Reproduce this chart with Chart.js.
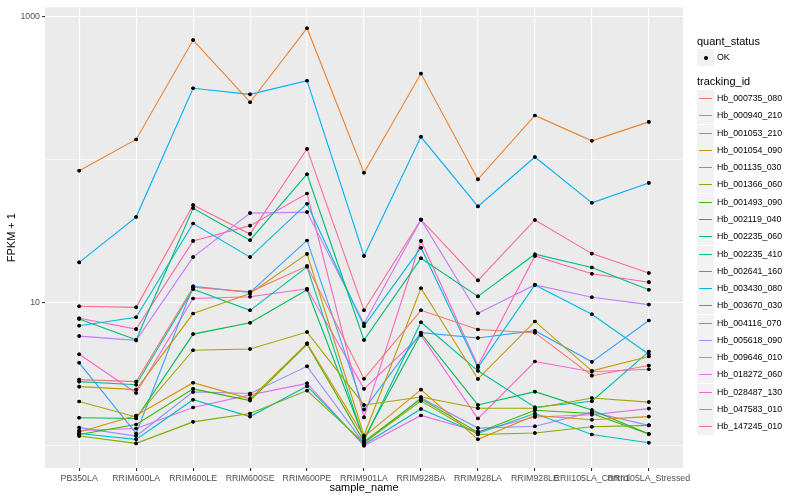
<!DOCTYPE html>
<html>
<head>
<meta charset="utf-8">
<script src="https://cdn.jsdelivr.net/npm/chart.js@4.4.0/dist/chart.umd.min.js"></script>
<style>
  body { margin: 0; background: #fff; font-family: "Liberation Sans", Arial, sans-serif; }
  #wrap { position: relative; width: 800px; height: 500px; }
  #legend { position: absolute; left: 0; top: 0; width: 800px; height: 500px; pointer-events: none; }
  .lg-title { position: absolute; left: 697px; font-size: 11px; color: #000; line-height: 14px; margin-top: -7px; white-space: nowrap; }
  .lg-row { position: absolute; left: 697px; height: 17px; margin-top: -8px; white-space: nowrap; }
  .lg-key { position: absolute; left: 0; top: 0; width: 17px; height: 17px; background: #f2f2f2; }
  .lg-line { position: absolute; left: 2px; top: 8px; width: 13px; height: 1px; }
  .lg-dot { position: absolute; left: 6.5px; top: 6.5px; width: 4px; height: 4px; border-radius: 50%; background: #000; }
  .lg-text { position: absolute; left: 20px; top: 0; line-height: 17px; font-size: 8.8px; color: #000; }
</style>
</head>
<body>
<div id="wrap">
  <canvas id="chart" width="800" height="500"></canvas>
  <div id="legend"></div>
</div>
<script>
const samples = ['PB350LA', 'RRIM600LA', 'RRIM600LE', 'RRIM600SE', 'RRIM600PE', 'RRIM901LA',
  'RRIM928BA', 'RRIM928LA', 'RRIM928LE', 'RRII105LA_Control', 'RRII105LA_Stressed'];

const trackingIds = ['Hb_000735_080', 'Hb_000940_210', 'Hb_001053_210', 'Hb_001054_090', 'Hb_001135_030',
  'Hb_001366_060', 'Hb_001493_090', 'Hb_002119_040', 'Hb_002235_060', 'Hb_002235_410',
  'Hb_002641_160', 'Hb_003430_080', 'Hb_003670_030', 'Hb_004116_070', 'Hb_005618_090',
  'Hb_009646_010', 'Hb_018272_060', 'Hb_028487_130', 'Hb_047583_010', 'Hb_147245_010'];

const lineColors = ['#F8766D', '#EA8331', '#D89000', '#C09B00', '#A3A500', '#7CAE00', '#39B600',
  '#00BB4E', '#00BF7D', '#00C1A3', '#00BFC4', '#00BAE0', '#00B0F6', '#35A2FF', '#9590FF',
  '#C77CFF', '#E76BF3', '#FA62DB', '#FF62BC', '#FF6C91'];

// FPKM + 1, one value per sample
const hb000735_080 = [2.90, 2.81, 12.8, 11.9, 18.0, 2.94, 8.84, 6.50, 6.17, 3.09, 3.64];
const hb000940_210 = [83.4, 138, 682, 251, 826, 80.8, 398, 72.6, 203, 135, 183];
const hb001053_210 = [1.25, 1.63, 2.76, 2.13, 5.20, 1.16, 2.47, 1.11, 1.63, 1.52, 1.60];
const hb001054_090 = [2.59, 2.47, 8.39, 11.6, 21.9, 1.18, 12.6, 2.93, 7.39, 3.34, 4.21];
const hb001135_030 = [2.04, 1.59, 4.65, 4.75, 6.23, 1.93, 2.19, 1.83, 1.83, 2.16, 2.02];
const hb001366_060 = [1.17, 1.04, 1.47, 1.68, 2.43, 1.05, 2.06, 1.20, 1.23, 1.36, 1.39];
const hb001493_090 = [1.20, 1.41, 2.50, 2.07, 5.12, 1.07, 2.13, 1.24, 1.77, 1.68, 1.21];
const hb002119_040 = [1.57, 1.55, 6.03, 7.23, 12.3, 1.12, 6.10, 1.93, 2.39, 1.78, 1.21];
const hb002235_060 = [7.69, 5.51, 45.7, 27.3, 78.9, 5.48, 20.4, 11.06, 21.8, 17.6, 12.3];
const hb002235_410 = [2.81, 2.67, 12.4, 8.84, 17.8, 1.09, 7.30, 3.34, 1.86, 2.05, 4.55];
const hb002641_160 = [1.22, 1.11, 2.10, 1.60, 2.61, 1.02, 1.81, 1.22, 1.68, 1.20, 1.05];
const hb003430_080 = [6.90, 7.91, 35.7, 20.8, 49.1, 6.85, 24.2, 3.53, 13.3, 8.30, 4.36];
const hb003670_030 = [19.1, 39.6, 314, 285, 355, 21.2, 144, 47.0, 104, 49.8, 68.6];
const hb004116_070 = [3.80, 1.22, 13.0, 11.8, 27.2, 1.79, 6.17, 5.66, 6.37, 3.86, 7.50];
const hb005618_090 = [1.34, 1.17, 2.38, 2.32, 3.59, 1.04, 2.16, 1.33, 1.37, 1.72, 1.39];
const hb009646_010 = [5.84, 5.45, 20.8, 42.2, 42.9, 7.15, 38.0, 8.43, 13.3, 10.9, 9.69];
const hb018272_060 = [1.28, 1.32, 1.85, 2.27, 2.73, 1.00, 1.63, 1.26, 1.59, 1.65, 1.82];
const hb028487_130 = [4.36, 2.34, 10.7, 11.0, 12.5, 2.50, 5.93, 1.55, 3.88, 3.29, 3.43];
const hb047583_010 = [7.78, 6.53, 27.0, 34.5, 57.8, 1.58, 27.0, 3.62, 21.2, 15.9, 13.9];
const hb147245_010 = [9.43, 9.27, 48.1, 30.2, 118.5, 8.85, 38.0, 14.3, 37.8, 22.0, 16.1];

const seriesValues = [hb000735_080, hb000940_210, hb001053_210, hb001054_090, hb001135_030,
  hb001366_060, hb001493_090, hb002119_040, hb002235_060, hb002235_410, hb002641_160,
  hb003430_080, hb003670_030, hb004116_070, hb005618_090, hb009646_010, hb018272_060,
  hb028487_130, hb047583_010, hb147245_010];

const yGridValues = [1, 10, 100, 1000];
const yLabelled = [10, 1000];

const panelBg = {
  id: 'panelBg',
  beforeDraw(chart) {
    const { ctx, chartArea: a } = chart;
    ctx.save();
    ctx.fillStyle = '#EBEBEB';
    ctx.fillRect(a.left, a.top, a.right - a.left, a.bottom - a.top);
    ctx.restore();
  }
};

// ggplot draws the points above every line
const pointsOnTop = {
  id: 'pointsOnTop',
  afterDatasetsDraw(chart) {
    const ctx = chart.ctx;
    chart.data.datasets.forEach((ds, i) => {
      chart.getDatasetMeta(i).data.forEach(pt => pt.draw(ctx, chart.chartArea));
    });
  }
};

const ctx = document.getElementById('chart').getContext('2d');
new Chart(ctx, {
  type: 'line',
  data: {
    datasets: trackingIds.map((id, i) => ({
      label: id,
      data: seriesValues[i].map((v, j) => ({ x: j, y: v })),
      borderColor: lineColors[i],
      borderWidth: 1.1,
      pointRadius: 1.8,
      pointBackgroundColor: '#000',
      pointBorderColor: '#000',
      pointBorderWidth: 0,
      tension: 0,
      fill: false
    }))
  },
  options: {
    responsive: false,
    animation: false,
    events: [],
    layout: { padding: { top: 5, right: 117, left: 0, bottom: 0 } },
    plugins: { legend: { display: false }, tooltip: { enabled: false } },
    scales: {
      x: {
        type: 'linear',
        min: -0.6,
        max: samples.length - 0.4,
        afterBuildTicks: s => { s.ticks = samples.map((_, i) => ({ value: i })); },
        afterFit: s => { s.height = 32; },
        ticks: {
          autoSkip: false,
          maxRotation: 0,
          padding: 2,
          color: '#4D4D4D',
          font: { family: '"Liberation Sans", Arial, sans-serif', size: 8.8 },
          callback: v => samples[v]
        },
        grid: { color: '#FFFFFF', lineWidth: 1.1, tickColor: '#333333', tickLength: 3 },
        border: { display: false },
        title: {
          display: true,
          text: 'sample_name',
          color: '#000',
          font: { family: '"Liberation Sans", Arial, sans-serif', size: 11 },
          padding: { top: 0, bottom: 5 }
        }
      },
      y: {
        type: 'logarithmic',
        min: 0.715,
        max: 1156,
        afterBuildTicks: s => { s.ticks = yGridValues.map(v => ({ value: v })); },
        afterFit: s => { s.width = 45; },
        ticks: {
          padding: 2,
          color: '#4D4D4D',
          font: { family: '"Liberation Sans", Arial, sans-serif', size: 8.8 },
          callback: v => (yLabelled.includes(v) ? String(v) : '')
        },
        grid: {
          color: '#FFFFFF',
          lineWidth: c => (yLabelled.includes(c.tick.value) ? 1.1 : 0.55),
          tickColor: c => (yLabelled.includes(c.tick.value) ? '#333333' : 'rgba(0,0,0,0)'),
          tickLength: 3
        },
        border: { display: false },
        title: {
          display: true,
          text: 'FPKM + 1',
          color: '#000',
          font: { family: '"Liberation Sans", Arial, sans-serif', size: 11 },
          padding: { top: 5, bottom: 0 }
        }
      }
    }
  },
  plugins: [panelBg, pointsOnTop]
});

// ggplot-style legend
const legend = document.getElementById('legend');
function addTitle(text, y) {
  const d = document.createElement('div');
  d.className = 'lg-title';
  d.style.top = Math.round(y) + 'px';
  d.textContent = text;
  legend.appendChild(d);
}
function addRow(text, y, color) {
  const row = document.createElement('div');
  row.className = 'lg-row';
  row.style.top = Math.round(y) + 'px';
  const key = document.createElement('div');
  key.className = 'lg-key';
  const mark = document.createElement('div');
  if (color) { mark.className = 'lg-line'; mark.style.background = color; }
  else { mark.className = 'lg-dot'; }
  key.appendChild(mark);
  const t = document.createElement('div');
  t.className = 'lg-text';
  t.textContent = text;
  row.appendChild(key);
  row.appendChild(t);
  legend.appendChild(row);
}
addTitle('quant_status', 40.5);
addRow('OK', 57);
addTitle('tracking_id', 81);
trackingIds.forEach((id, i) => addRow(id, 98 + i * 17.28, lineColors[i]));
</script>
</body>
</html>
